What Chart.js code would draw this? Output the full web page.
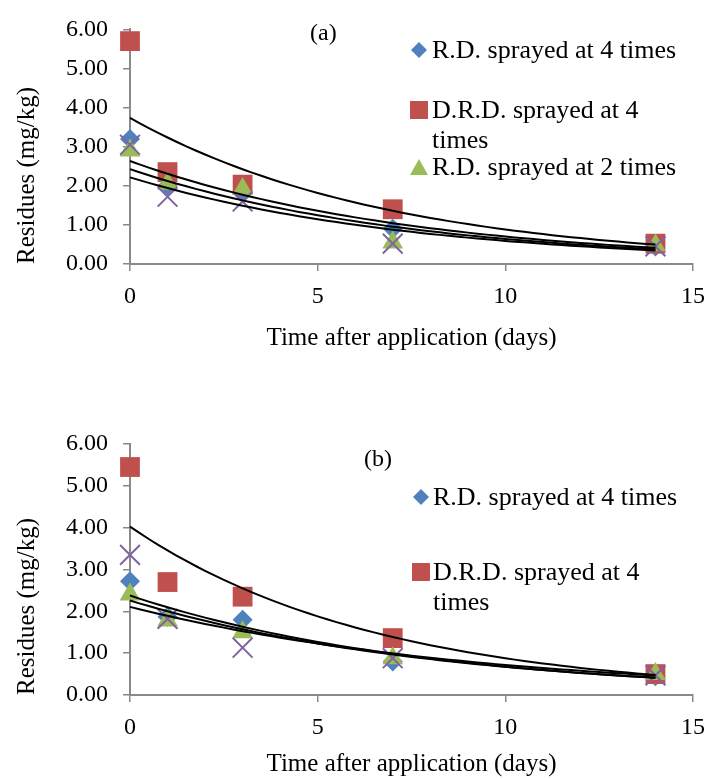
<!DOCTYPE html>
<html>
<head>
<meta charset="utf-8">
<script src="https://cdn.jsdelivr.net/npm/chart.js@4.4.0/dist/chart.umd.min.js"></script>
<style>
  html, body { margin: 0; padding: 0; background: #fff; }
  body { width: 716px; height: 779px; position: relative; overflow: hidden;
         font-family: "Liberation Serif", "Times New Roman", serif; color: #000; }
  .panel { position: absolute; left: 0; width: 716px; }
  .tag { position: absolute; font-size: 24px; line-height: 26px; }
  .leg { position: absolute; font-size: 26px; line-height: 30px; width: 256px; }
  .mk { position: absolute; }
</style>
</head>
<body>
<div class="panel" style="top:0;height:360px"><canvas id="chartA" width="716" height="360"></canvas></div>
<div class="panel" style="top:380px;height:399px"><canvas id="chartB" width="716" height="399"></canvas></div>
<div id="overlay"></div>
<script>
// Sampling days after the last spray
const days = [0, 1, 3, 7, 14];

// Series names
const seriesLabels = [
  'R.D. sprayed at 4 times',
  'D.R.D. sprayed at 4 times',
  'R.D. sprayed at 2 times',
  'D.R.D. sprayed at 2 times'
];

// Residues (mg/kg), panel (a)
const rdFourA  = [3.20, 2.00, 1.80, 0.90, 0.45];
const drdFourA = [5.70, 2.35, 2.03, 1.40, 0.52];
const rdTwoA   = [2.90, 2.05, 1.92, 0.55, 0.48];
const drdTwoA  = [3.05, 1.72, 1.60, 0.52, 0.45];

// Residues (mg/kg), panel (b)
const rdFourB  = [2.72, 1.87, 1.80, 0.80, 0.45];
const drdFourB = [5.45, 2.70, 2.35, 1.36, 0.50];
const rdTwoB   = [2.40, 1.78, 1.50, 0.88, 0.50];
const drdTwoB  = [3.35, 1.82, 1.13, 0.88, 0.47];

// Axis ticks
const xTicks = [0, 5, 10, 15];
const yTicks = [0, 1, 2, 3, 4, 5, 6];

const FONT = '"Liberation Serif", "Times New Roman", serif';
const AXIS_GREY = '#898989';

const markerStyles = [
  { color: '#4F81BD', pointStyle: 'rectRot', radius: 10, order: 4 },
  { color: '#C0504D', pointStyle: 'rect',    radius: 14, order: 3 },
  { color: '#9BBB59', pointStyle: 'triangle',radius: 12, order: 2 },
  { color: '#8064A2', pointStyle: 'crossRot',radius: 14, order: 1 }
];

// Least-squares fit of ln(y) = ln(a) + b*x  (exponential trendline)
function expFit(xs, ys) {
  const n = xs.length;
  let sx = 0, sy = 0, sxx = 0, sxy = 0;
  for (let i = 0; i < n; i++) {
    const ly = Math.log(ys[i]);
    sx += xs[i]; sy += ly; sxx += xs[i] * xs[i]; sxy += xs[i] * ly;
  }
  const b = (n * sxy - sx * sy) / (n * sxx - sx * sx);
  const a = Math.exp((sy - b * sx) / n);
  return { a, b };
}

function trendPoints(xs, ys) {
  const { a, b } = expFit(xs, ys);
  const pts = [];
  const x0 = xs[0], x1 = xs[xs.length - 1];
  for (let x = x0; x <= x1 + 1e-9; x += 0.25) pts.push({ x, y: a * Math.exp(b * x) });
  return pts;
}

function buildChart(canvasId, seriesList, layout) {
  const datasets = [];
  seriesList.forEach((vals, i) => {
    const st = markerStyles[i];
    datasets.push({
      label: seriesLabels[i],
      data: days.map((d, k) => ({ x: d, y: vals[k] })),
      showLine: false,
      pointStyle: st.pointStyle,
      pointRadius: st.radius,
      pointHoverRadius: st.radius,
      backgroundColor: st.color,
      borderColor: st.color,
      pointBorderWidth: st.pointStyle === 'crossRot' ? 2 : 0,
      order: st.order,
      clip: false
    });
  });
  seriesList.forEach((vals, i) => {
    datasets.push({
      label: seriesLabels[i] + ' trend',
      data: trendPoints(days, vals),
      showLine: true,
      pointRadius: 0,
      borderColor: '#000',
      borderWidth: 2,
      tension: 0,
      order: 0,
      clip: false
    });
  });

  return new Chart(document.getElementById(canvasId), {
    type: 'scatter',
    data: { datasets },
    options: {
      responsive: false,
      animation: false,
      devicePixelRatio: 1,
      layout: { padding: { left: 0, right: 14, top: layout.top, bottom: 0 } },
      plugins: { legend: { display: false }, tooltip: { enabled: false } },
      scales: {
        x: {
          type: 'linear', min: 0, max: 15,
          afterBuildTicks: s => { s.ticks = xTicks.map(v => ({ value: v })); },
          ticks: { font: { family: FONT, size: 24 }, color: '#000', padding: 11 },
          grid: { drawOnChartArea: false, drawTicks: true, tickLength: 7, color: AXIS_GREY, lineWidth: 1.5 },
          border: { display: true, color: AXIS_GREY, width: 2 },
          title: { display: true, text: 'Time after application (days)', color: '#000',
                   font: { family: FONT, size: 25 }, padding: { top: 0, bottom: layout.xTitlePad } },
          afterFit: s => { s.height = layout.xHeight; }
        },
        y: {
          type: 'linear', min: 0, max: 6,
          afterBuildTicks: s => { s.ticks = yTicks.map(v => ({ value: v })); },
          ticks: { font: { family: FONT, size: 24 }, color: '#000', padding: 15,
                   callback: v => Number(v).toFixed(2) },
          grid: { drawOnChartArea: false, drawTicks: true, tickLength: 7, color: AXIS_GREY, lineWidth: 1.5 },
          border: { display: true, color: AXIS_GREY, width: 2 },
          title: { display: true, text: 'Residues (mg/kg)', color: '#000', align: 'start',
                   font: { family: FONT, size: 25 }, padding: { top: 12, bottom: 0 } },
          afterFit: s => { s.width = 130; }
        }
      }
    }
  });
}

buildChart('chartA', [rdFourA, drdFourA, rdTwoA, drdTwoA], { top: 25, xHeight: 96, xTitlePad: 7 });
buildChart('chartB', [rdFourB, drdFourB, rdTwoB, drdTwoB], { top: 64, xHeight: 84, xTitlePad: 0 });

// Panel tags and legends
const overlay = document.getElementById('overlay');
function addTag(text, left, cy) {
  const d = document.createElement('div');
  d.className = 'tag'; d.textContent = text;
  d.style.left = left + 'px'; d.style.top = (cy - 13) + 'px';
  overlay.appendChild(d);
}
function markerSvg(i) {
  const c = markerStyles[i].color;
  if (i === 0) return '<svg width="16" height="16"><polygon points="8,0 16,8 8,16 0,8" fill="' + c + '"/></svg>';
  if (i === 1) return '<svg width="18" height="18"><rect x="0" y="0" width="18" height="18" fill="' + c + '"/></svg>';
  if (i === 2) return '<svg width="18" height="16"><polygon points="9,0 18,16 0,16" fill="' + c + '"/></svg>';
  return '<svg width="16" height="16"><path d="M1,1 L15,15 M15,1 L1,15" stroke="' + c + '" stroke-width="2"/></svg>';
}
function addLegendItem(i, markerCx, cy, textLeft) {
  const m = document.createElement('div');
  m.className = 'mk';
  m.innerHTML = markerSvg(i);
  const w = i === 1 || i === 2 ? 18 : 16, h = i === 1 ? 18 : 16;
  m.style.left = (markerCx - w / 2) + 'px'; m.style.top = (cy - h / 2) + 'px';
  m.style.width = w + 'px'; m.style.height = h + 'px';
  overlay.appendChild(m);
  const t = document.createElement('div');
  t.className = 'leg'; t.textContent = seriesLabels[i];
  t.style.left = textLeft + 'px'; t.style.top = (cy - 15) + 'px';
  overlay.appendChild(t);
}

addTag('(a)', 310, 32);
addLegendItem(0, 419, 50, 432);
addLegendItem(1, 419, 110, 432);
addLegendItem(2, 419, 167, 432);

addTag('(b)', 364, 458);
addLegendItem(0, 421, 497, 433);
addLegendItem(1, 421, 572, 433);
</script>
</body>
</html>
